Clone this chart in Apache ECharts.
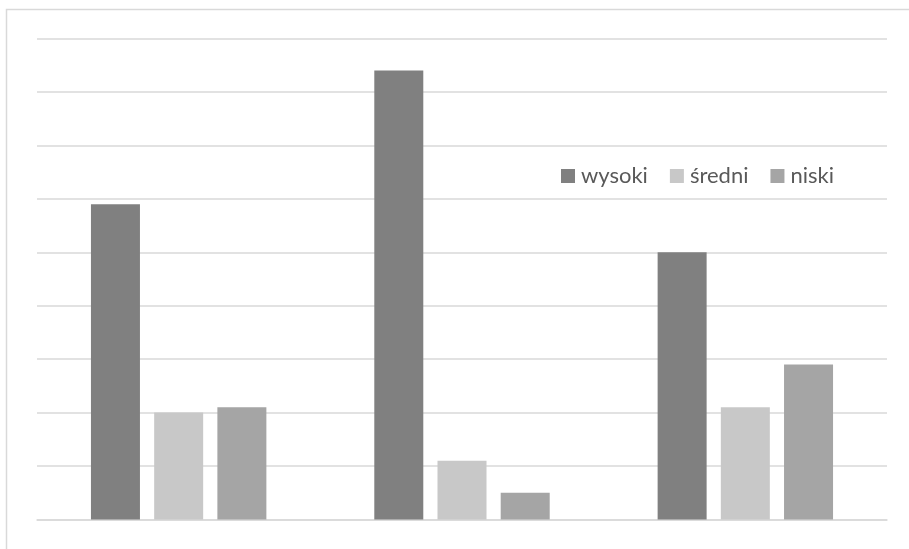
<!DOCTYPE html>
<html>
<head>
<meta charset="utf-8">
<script src="https://cdn.jsdelivr.net/npm/echarts@6/dist/echarts.min.js"></script>
<style>
  html, body { margin: 0; padding: 0; background: #fff; }
  #chart { width: 909px; height: 549px; }
</style>
</head>
<body>
<div id="chart"></div>
<script>
// dane
var categories = ['A', 'B', 'C'];
var seriesNames = ['wysoki', 'średni', 'niski'];
var wysoki = [5.9, 8.4, 5.0];
var sredni = [2.0, 1.1, 2.1];
var niski = [2.1, 0.5, 2.9];

var chart = echarts.init(document.getElementById('chart'));

var option = {
  animation: false,
  color: ['#808080', '#c8c8c8', '#a5a5a5'],
  graphic: [{
    type: 'rect',
    shape: { x: 6.5, y: 9.5, width: 940, height: 600 },
    style: { fill: 'none', stroke: '#d9d9d9', lineWidth: 1.5 },
    silent: true
  }],
  legend: {
    data: seriesNames,
    left: 556,
    top: 160,
    itemWidth: 14,
    itemHeight: 14,
    itemGap: 22,
    icon: 'rect',
    textStyle: { color: '#595959', fontSize: 22, fontFamily: 'Lato', padding: [0, 0, 0, 1] }
  },
  grid: { left: 37, right: 22, top: 38.5, bottom: 29.5 },
  xAxis: {
    type: 'category',
    data: categories,
    axisLine: { lineStyle: { color: '#d9d9d9', width: 1.5 } },
    axisTick: { show: false },
    axisLabel: { show: false }
  },
  yAxis: {
    type: 'value',
    min: 0,
    max: 9,
    interval: 1,
    axisLabel: { show: false },
    axisLine: { show: false },
    axisTick: { show: false },
    splitLine: { lineStyle: { color: '#d9d9d9', width: 1.5 } }
  },
  series: [
    { name: seriesNames[0], type: 'bar', data: wysoki, barWidth: 49, barGap: '29%' },
    { name: seriesNames[1], type: 'bar', data: sredni, barWidth: 49, barGap: '29%' },
    { name: seriesNames[2], type: 'bar', data: niski, barWidth: 49, barGap: '29%' }
  ]
};

chart.setOption(option);
</script>
</body>
</html>
